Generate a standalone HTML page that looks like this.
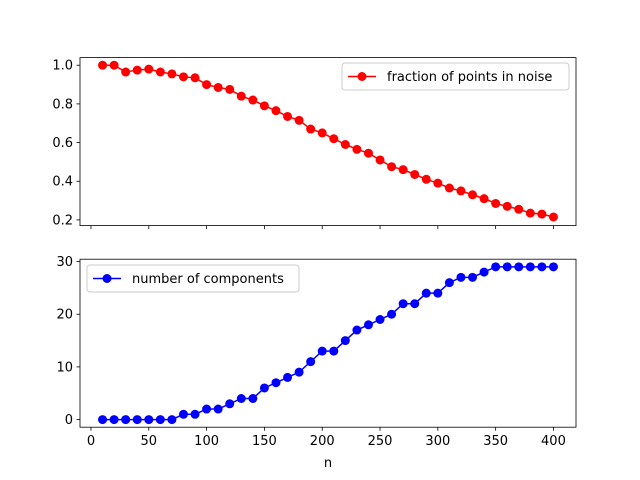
<!DOCTYPE html>
<html><head><meta charset="utf-8"><style>
body{margin:0;background:#fff}
svg{display:block;font-family:"DejaVu Sans","Liberation Sans",sans-serif}
</style></head><body>
<svg id="fig" width="640" height="480"></svg>
<script>
const nValues=[10,20,30,40,50,60,70,80,90,100,110,120,130,140,150,160,170,180,190,200,210,220,230,240,250,260,270,280,290,300,310,320,330,340,350,360,370,380,390,400];
const noiseFraction=[1.0,1.0,0.965,0.975,0.98,0.965,0.955,0.94,0.935,0.9,0.885,0.875,0.84,0.82,0.79,0.765,0.735,0.715,0.67,0.65,0.62,0.59,0.565,0.545,0.51,0.475,0.46,0.435,0.41,0.39,0.365,0.35,0.33,0.31,0.285,0.27,0.255,0.235,0.23,0.215];
const components=[0,0,0,0,0,0,0,1,1,2,2,3,4,4,6,7,8,9,11,13,13,15,17,18,19,20,22,22,24,24,26,27,27,28,29,29,29,29,29,29];
const xTicks=[0,50,100,150,200,250,300,350,400];
const topTicks=[0.2,0.4,0.6,0.8,1.0];
const botTicks=[0,10,20,30];

const NS="http://www.w3.org/2000/svg";
const svg=document.getElementById('fig');
function el(t,a,p){const e=document.createElementNS(NS,t);for(const k in a)e.setAttribute(k,a[k]);(p||svg).appendChild(e);return e;}
const L=80,R=576;
const xmin=10-19.5,xmax=400+19.5;
const xs=v=>L+(v-xmin)/(xmax-xmin)*(R-L);
function axes(top,bot,ymin,ymax,ticks,fmt,vals,color,name,showXLabels){
  const g=el('g',{});
  
  
  const ys=v=>bot-(v-ymin)/(ymax-ymin)*(bot-top);
  ticks.forEach(t=>{
    const y=ys(t);
    el('line',{x1:L-3.5,x2:L,y1:y,y2:y,stroke:'#000','stroke-width':0.8},g);
    const tx=el('text',{x:L-7,y:y+4.5,'text-anchor':'end','font-size':13,fill:'#000'},g);
    tx.textContent=fmt(t);
    
    
  });
  xTicks.forEach(t=>{
    const x=xs(t);
    el('line',{x1:x,x2:x,y1:bot,y2:bot+3.5,stroke:'#000','stroke-width':0.8},g);
    if(showXLabels){
      const tx=el('text',{x:x,y:bot+18,'text-anchor':'middle','font-size':13,fill:'#000'},g);
      tx.textContent=t;
      
      
    }
  });
  const pts=vals.map((v,i)=>xs(nValues[i])+','+ys(v)).join(' ');
  const line=el('polyline',{points:pts,fill:'none',stroke:color,'stroke-width':1.5},g);
  
  
  vals.forEach((v,i)=>{
    const c=el('circle',{cx:xs(nValues[i]),cy:ys(v),r:4.5,fill:color},g);
    
    
  });
  el('rect',{x:L,y:top,width:R-L,height:bot-top,fill:'none',stroke:'#000','stroke-width':0.8},g);
}
axes(57.6,225.6,0.1705,1.0395,topTicks,v=>v.toFixed(1),noiseFraction,'#ff0000','noise-fraction',false);
axes(259.2,427.2,-1.45,30.45,botTicks,v=>String(v),components,'#0000ff','components',true);

function legend(x,y,w,color,label,name){
  const g=el('g',{});
  
  
  el('rect',{x:x,y:y,width:w,height:27,rx:3,fill:'#fff','fill-opacity':0.8,stroke:'#ccc','stroke-width':1},g);
  el('line',{x1:x+6,x2:x+34,y1:y+13.5,y2:y+13.5,stroke:color,'stroke-width':1.5},g);
  el('circle',{cx:x+20,cy:y+13.5,r:4.5,fill:color},g);
  const t=el('text',{x:x+45,y:y+18,'font-size':13,fill:'#000'},g);
  t.textContent=label;
}
legend(342,63,227,'#ff0000','fraction of points in noise','noise-legend');
legend(87,265,212,'#0000ff','number of components','components-legend');
const xl=el('text',{x:(L+R)/2,y:467,'text-anchor':'middle','font-size':13,fill:'#000'});
xl.textContent='n';


</script>
</body></html>
